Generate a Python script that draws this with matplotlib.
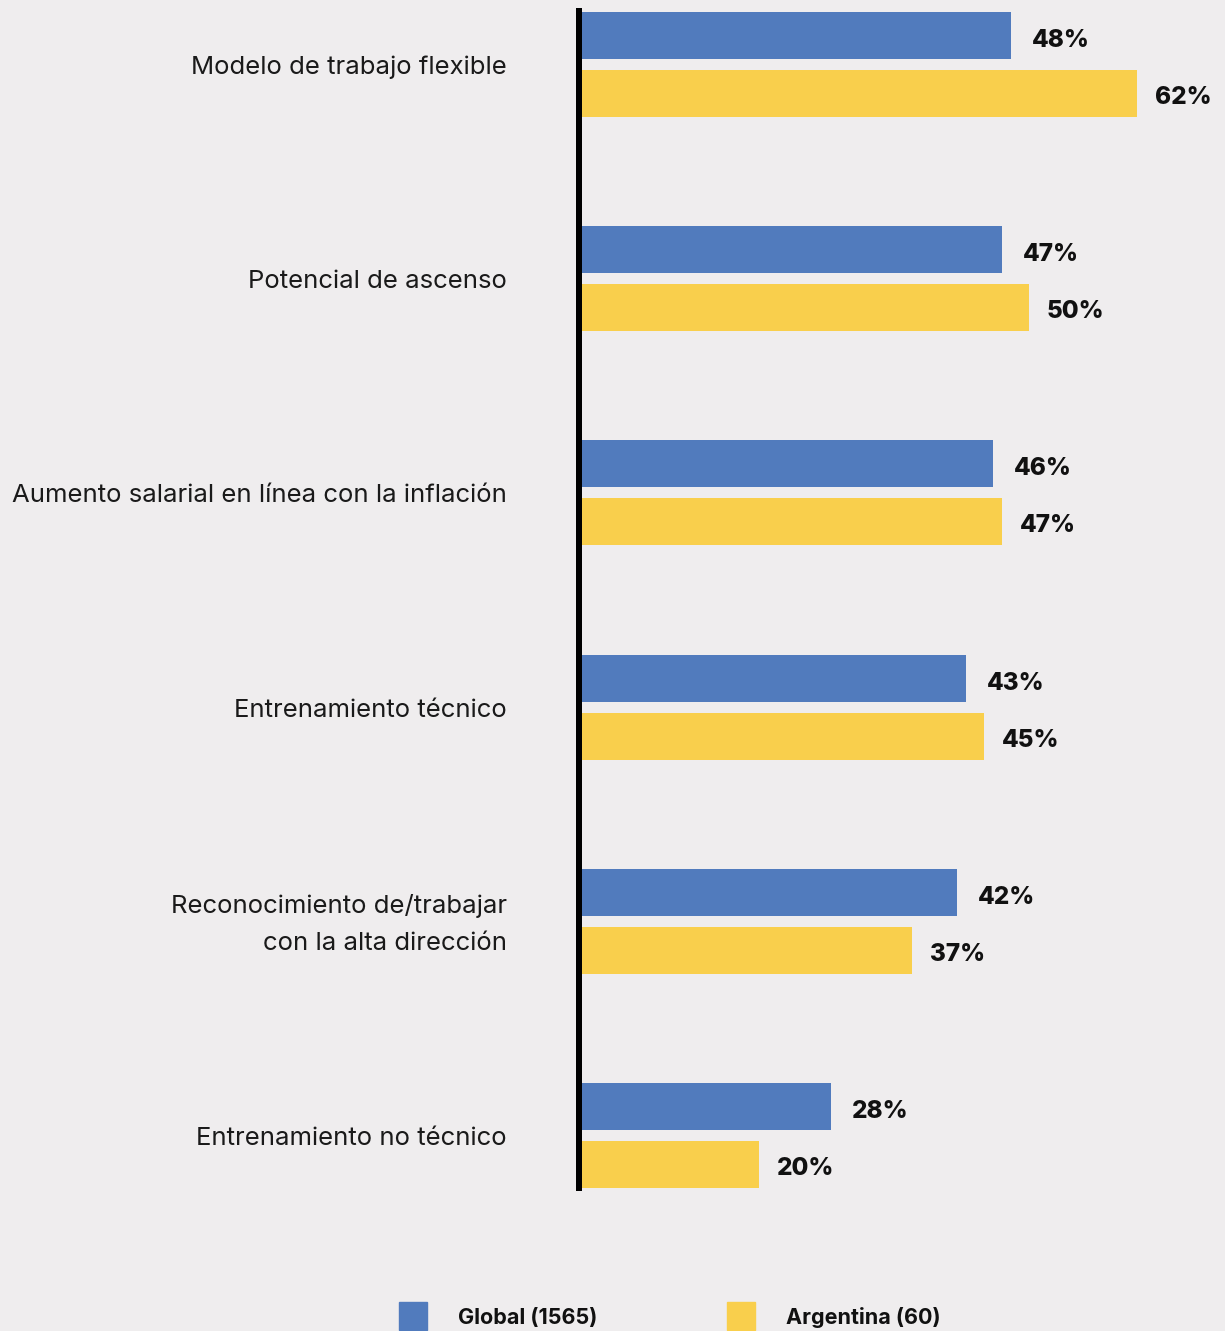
import numpy as np
import matplotlib.pyplot as plt
from matplotlib.patches import Rectangle

# data
categories = [
    "Modelo de trabajo flexible",
    "Potencial de ascenso",
    "Aumento salarial en línea con la inflación",
    "Entrenamiento técnico",
    "Reconocimiento de/trabajar\ncon la alta dirección",
    "Entrenamiento no técnico",
]
global_vals = [48, 47, 46, 43, 42, 28]
argentina_vals = [62, 50, 47, 45, 37, 20]
series_names = ["Global (1565)", "Argentina (60)"]

blue = "#517bbd"
yellow = "#f9cf4c"
bg = "#efedee"

plt.rcParams['font.family'] = ['Inter', 'DejaVu Sans']

W, H = 1225, 1331
fig = plt.figure(figsize=(W / 100, H / 100), dpi=100, facecolor=bg)

# axes start at the black spine, full figure height
x0 = 579
pitch = 214.2   # px between groups
ax = fig.add_axes([x0 / W, 0, (W - x0) / W, 1])
ax.set_facecolor(bg)
ax.set_xlim(0, (W - x0) / 9.0)
top = -64.5 / pitch
ax.set_ylim(top + H / pitch, top)

y = np.arange(len(categories))
bh = 47 / pitch
off = 29 / pitch
ax.barh(y - off, global_vals, height=bh, color=blue, zorder=2)
ax.barh(y + off, argentina_vals, height=bh, color=yellow, zorder=2)

for spine in ['top', 'right', 'bottom']:
    ax.spines[spine].set_visible(False)
ax.spines['left'].set_linewidth(6 * 72 / 100)
ax.spines['left'].set_color('black')
ax.spines['left'].set_zorder(3)
ax.spines['left'].set_bounds(top + 11 / pitch, top + 1188 / pitch)
ax.set_xticks([])
ax.set_yticks([])

# value labels
px = (W - x0) / 9.0 / (W - x0)   # data units per pixel on x
for i in range(len(categories)):
    ax.text(global_vals[i] + 21 * px, y[i] - off + 5 / pitch, f"{global_vals[i]}%",
            ha='left', va='center', fontsize=17.5, fontweight='heavy', color='#111111')
    ax.text(argentina_vals[i] + 18 * px, y[i] + off + 4 / pitch, f"{argentina_vals[i]}%",
            ha='left', va='center', fontsize=17.5, fontweight='heavy', color='#111111')

# category labels, right aligned left of the spine
trans = ax.get_yaxis_transform()
for i, cat in enumerate(categories):
    ax.text((507 - x0) / (W - x0), y[i] + 3 / pitch, cat, transform=trans, ha='right',
            va='center', fontsize=18.5, color='#1a1a1a', linespacing=1.75, clip_on=False)

# legend at the bottom
for name, col, sx, tx in zip(series_names, [blue, yellow], [399, 727], [458, 786]):
    fig.patches.append(Rectangle((sx / W, 1 - 1330 / H), 28 / W, 28 / H,
                                 transform=fig.transFigure, color=col))
    fig.text(tx / W, 1 - 1318 / H, name, ha='left', va='center',
             fontsize=15.5, fontweight='bold', color='#111111')

fig.savefig("out.png", dpi=100, facecolor=bg)
